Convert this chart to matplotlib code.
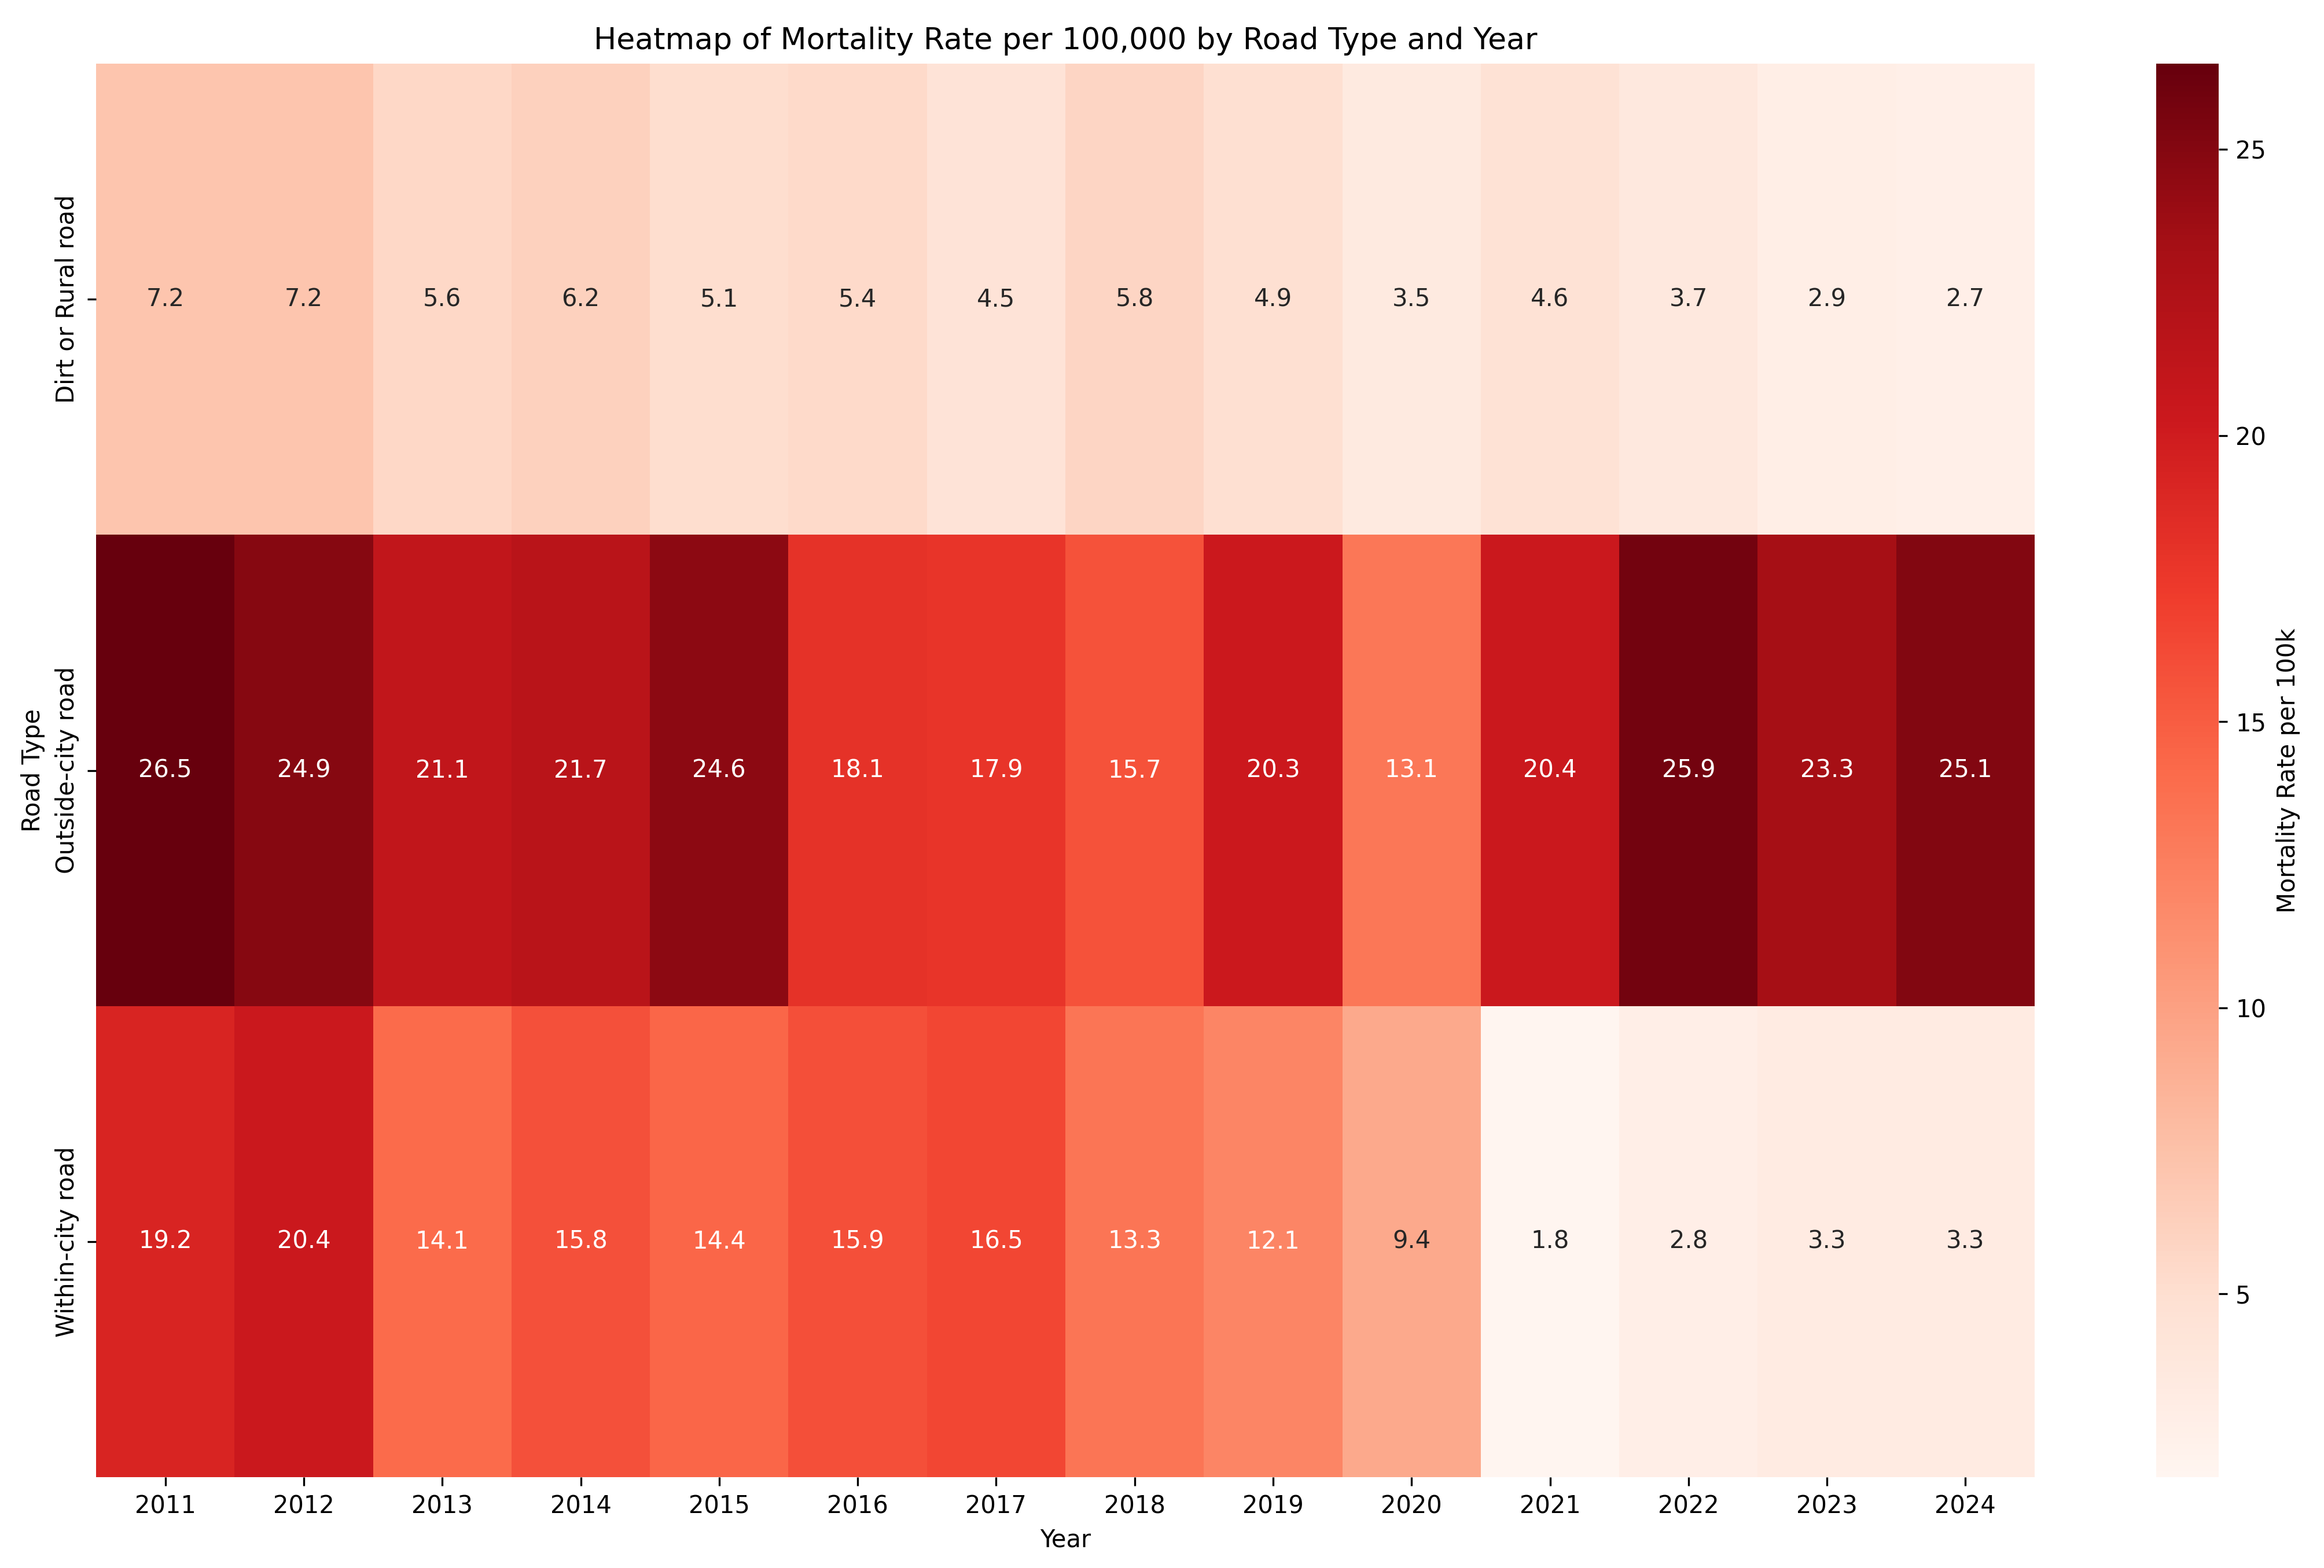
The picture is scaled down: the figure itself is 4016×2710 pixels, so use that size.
import matplotlib
matplotlib.use("Agg")
import matplotlib.pyplot as plt
import seaborn as sns
import numpy as np
import pandas as pd

years = [2011, 2012, 2013, 2014, 2015, 2016, 2017, 2018, 2019, 2020, 2021, 2022, 2023, 2024]
road_types = ["Dirt or Rural road", "Outside-city road", "Within-city road"]
dirt_rural = [7.2, 7.2, 5.6, 6.2, 5.1, 5.4, 4.5, 5.8, 4.9, 3.5, 4.6, 3.7, 2.9, 2.7]
outside_city = [26.5, 24.9, 21.1, 21.7, 24.6, 18.1, 17.9, 15.7, 20.3, 13.1, 20.4, 25.9, 23.3, 25.1]
within_city = [19.2, 20.4, 14.1, 15.8, 14.4, 15.9, 16.5, 13.3, 12.1, 9.4, 1.8, 2.8, 3.3, 3.3]

df = pd.DataFrame([dirt_rural, outside_city, within_city], index=road_types, columns=years)
df.index.name = "Road Type"
df.columns.name = "Year"

fig = plt.figure(figsize=(4016 / 300, 2710 / 300), dpi=300)
ax = fig.add_axes([166 / 4016, 1 - 2553 / 2710, (3516 - 166) / 4016, (2553 - 110) / 2710])
cax = fig.add_axes([3726 / 4016, 1 - 2553 / 2710, 108 / 4016, (2553 - 110) / 2710])

sns.heatmap(df, ax=ax, cbar_ax=cax, cmap="Reds", annot=True, fmt=".1f",
            cbar_kws={"label": "Mortality Rate per 100k"})
ax.set_title("Heatmap of Mortality Rate per 100,000 by Road Type and Year", fontsize=12.5)
ax.set_xlabel("Year")
ax.set_ylabel("Road Type")
ax.tick_params(axis="x", rotation=0)

fig.savefig("out.png", dpi=300)
